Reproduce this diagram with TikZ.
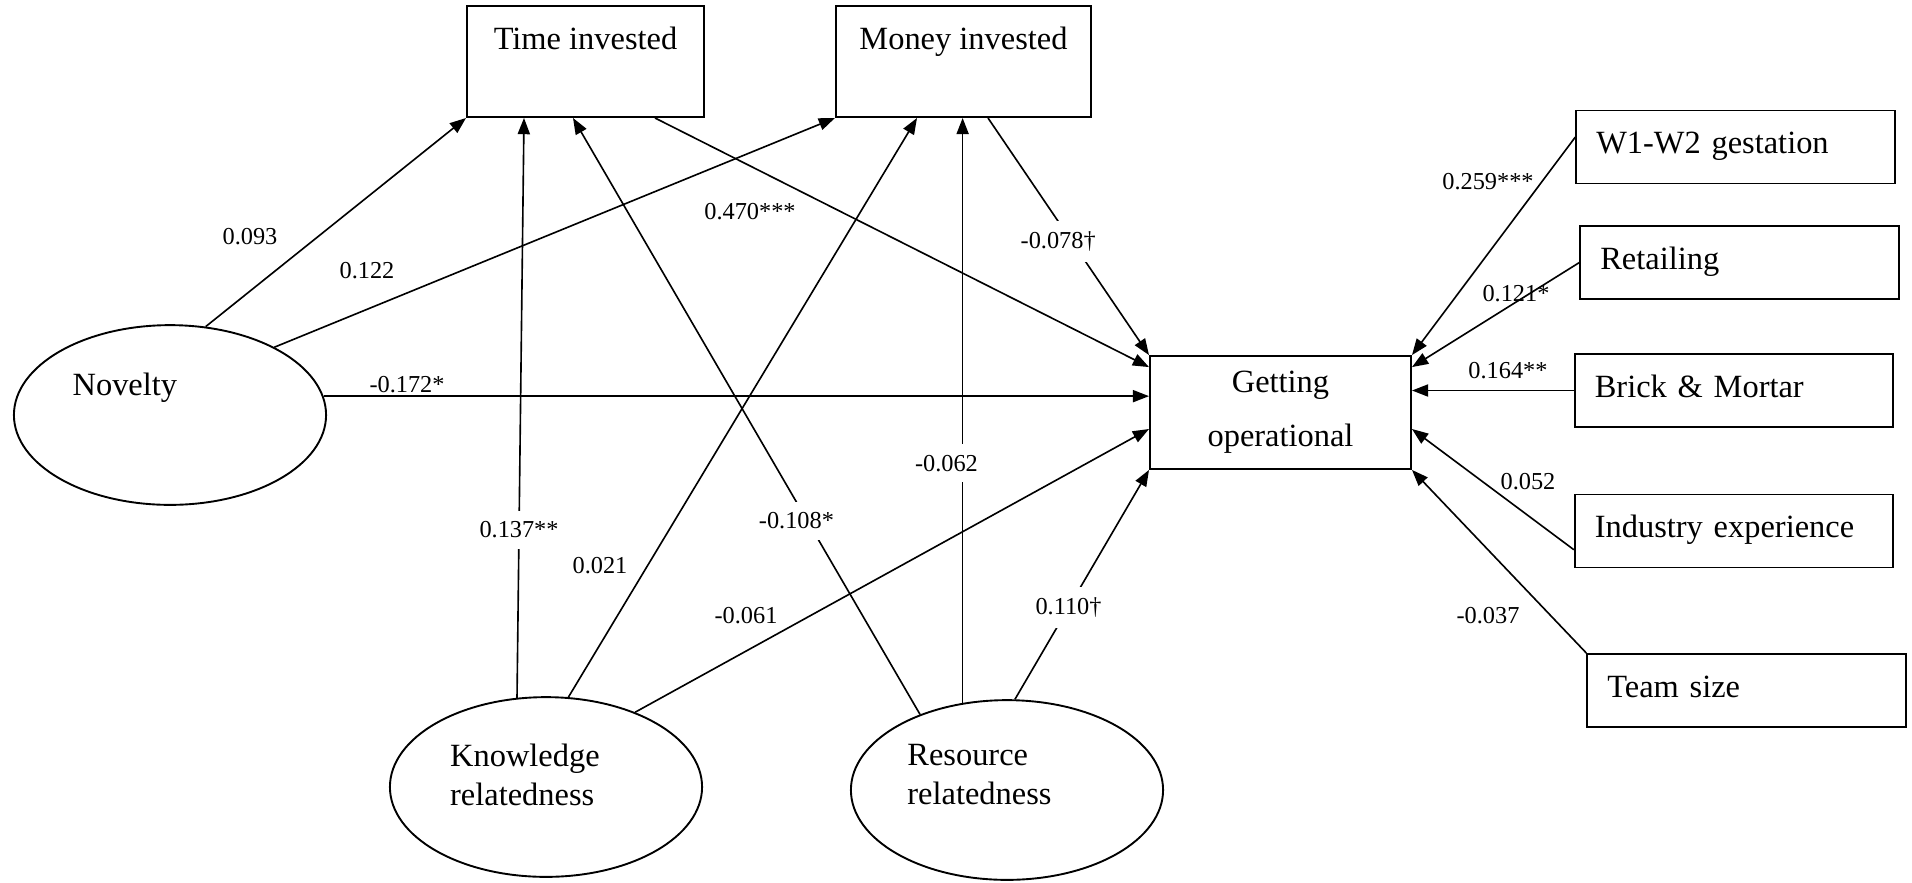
\documentclass[tikz,border=0pt]{standalone}
\usepackage{fontspec}
\setmainfont{Liberation Serif}
\usetikzlibrary{arrows.meta}
\usetikzlibrary{calc}
\usetikzlibrary{shapes.geometric}

\tikzset{
  var/.style={draw, line width=0.7pt, rectangle, font=\fontsize{12}{14}\selectfont},
  topvar/.style={var, inner sep=0pt, text height=16.2pt, text depth=24.9pt},
  ctrl/.style={var, text width=103pt, inner xsep=7.4pt, inner ysep=0pt, minimum height=27pt, align=left, text height=8.5pt, text depth=3.5pt},
  latent/.style={draw, line width=0.7pt, ellipse, minimum width=115.5pt, minimum height=66.5pt, inner sep=0pt},
  inlbl/.style={align=left, font=\fontsize{12}{14.4}\selectfont},
  coef/.style={font=\fontsize{9}{10}\selectfont, inner sep=1pt},
  cut/.style={coef, fill=white, inner sep=4pt},
  eff/.style={-{Triangle[length=6pt,width=4.5pt]}, line width=0.6pt}
}

\begin{document}
\begin{tikzpicture}[x=0.37pt, y=-0.37pt]
  \useasboundingbox (0,0) rectangle (1912,882);

  % mediators
  \node[topvar, minimum width=87.7pt] (time) at (585.5,61.5) {Time invested};
  \node[topvar, minimum width=94.4pt] (money) at (963.5,61.5) {Money invested};

  % outcome
  \node[var, align=center, minimum width=96.6pt, minimum height=41.8pt,
        font=\fontsize{12}{20}\selectfont] (op) at (1280.5,412.5) {Getting\\operational};

  % latent predictors
  \node[latent, label={[inlbl, xshift=-16.7pt, yshift=10.1pt]center:Novelty}] (nov) at (170,415) {};
  \node[latent, label={[inlbl, xshift=-7.8pt, yshift=4.6pt]center:Knowledge\\relatedness}] (know) at (546,787) {};
  \node[latent, label={[inlbl, xshift=-10.2pt, yshift=5.6pt]center:Resource\\relatedness}] (res) at (1007,790) {};

  % controls
  \node[ctrl] (gest) at (1735.5,147) {W1-W2 gestation};
  \node[ctrl] (retail) at (1739.5,262.5) {Retailing};
  \node[ctrl] (brick) at (1734,390.5) {Brick \& Mortar};
  \node[ctrl] (indus) at (1734,531) {Industry experience};
  \node[ctrl] (team) at (1746.5,690.5) {Team size};

  % paths from novelty
  \draw[eff] (nov.68) -- (time.south west);
  \draw[eff] (nov.33) -- (money.south west);
  \draw[eff] (nov.7) -- (nov.7 -| op.west);

  % mediators to outcome
  \draw[eff] ($(time.south)+(69.5,0)$) -- ($(op.north west)+(0,12)$);
  \draw[eff] ($(money.south)+(24.5,0)$) -- node[cut, pos=.52, xshift=-5pt] (c078) {-0.078†} (op.north west);

  % paths from knowledge relatedness
  \draw[eff] (know.108) -- node[cut, pos=.29] (c137) {0.137**} ($(time.south)+(-61.5,0)$);
  \draw[eff] (know.76) -- ($(money.south)+(-46.5,0)$);
  \draw[eff] (know.40) -- ($(op.west)+(0,16.5)$);

  % paths from resource relatedness
  \draw[eff] (res.139) -- node[cut, pos=.325, xshift=-4pt] (c108) {-0.108*} ($(time.south)+(-12.5,0)$);
  \draw[eff] (res.117) -- node[cut, pos=.41, xshift=-6pt] (c062) {-0.062} (res.117 |- money.south);
  \draw[eff] (res.85) -- node[cut, pos=.4] (c110) {0.110†} (op.south west);

  % controls to outcome
  \draw[eff] ($(gest.west)+(0,-10)$) -- (op.north east);
  \draw[eff] (retail.west) -- ($(op.north east)+(0,12)$);
  \draw[eff] (brick.west) -- (brick.west -| op.east);
  \draw[eff] ($(indus.west)!.5!(indus.south west)$) -- ($(op.east)+(0,16.5)$);
  \draw[eff] (team.north west) -- (op.south east);

  % coefficients
  \node[coef] (c093) at (250,237) {0.093};
  \node[coef] (c122) at (367,271) {0.122};
  \node[coef] (c172) at (407,385) {-0.172*};
  \node[coef] (c470) at (750,212) {0.470***};
  \node[coef] (c021) at (600,566) {0.021};
  \node[coef] (c061) at (746,616) {-0.061};
  \node[coef] (c259) at (1488,182) {0.259***};
  \node[coef] (c121) at (1516,294) {0.121*};
  \node[coef] (c164) at (1508,371) {0.164**};
  \node[coef] (c052) at (1528,482) {0.052};
  \node[coef] (c037) at (1488,616) {-0.037};
\end{tikzpicture}
\end{document}
